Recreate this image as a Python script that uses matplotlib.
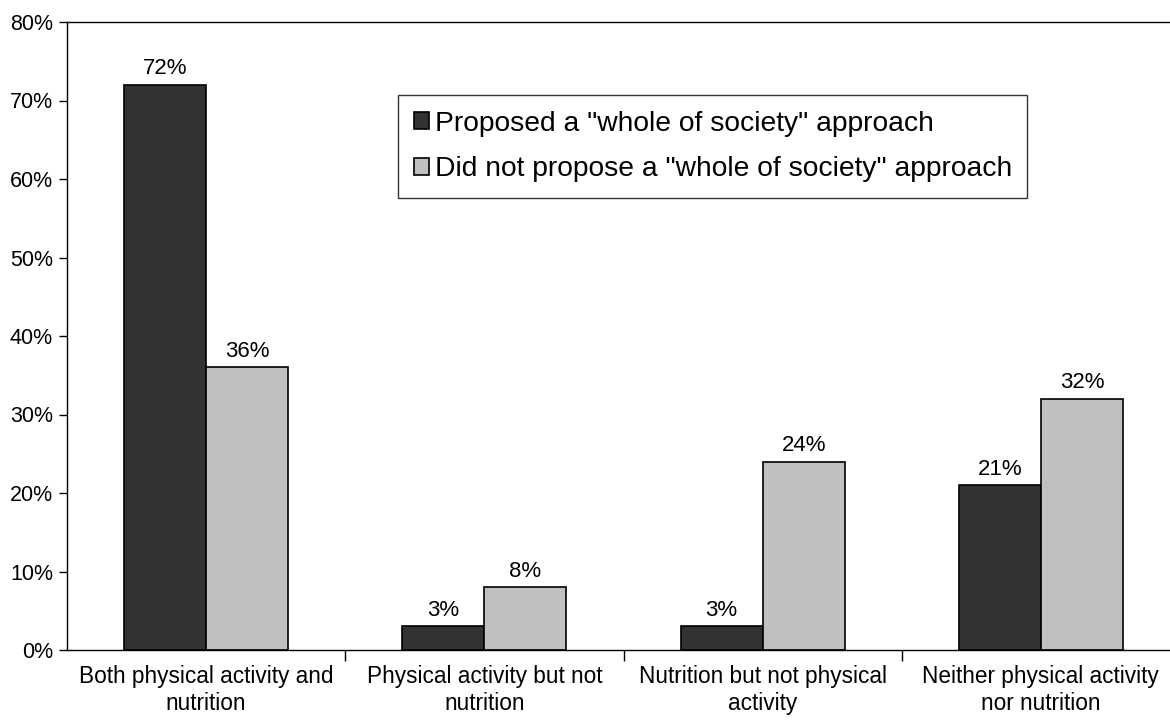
import matplotlib
matplotlib.use("Agg")
import matplotlib.pyplot as plt
import numpy as np
from matplotlib.ticker import FixedLocator, PercentFormatter

plt.rcParams['font.family'] = ['Liberation Sans', 'DejaVu Sans']

categories = ["Both physical activity and\nnutrition",
              "Physical activity but not\nnutrition",
              "Nutrition but not physical\nactivity",
              "Neither physical activity\nnor nutrition"]
series_names = ['Proposed a "whole of society" approach',
                'Did not propose a "whole of society" approach']
proposed = [72, 3, 3, 21]
not_proposed = [36, 8, 24, 32]
yticks = [0, 10, 20, 30, 40, 50, 60, 70, 80]

fig = plt.figure(figsize=(11.7, 7.23), dpi=100)
ax = fig.add_axes([67/1170, 73/723, (1180-67)/1170, (650-22)/723])

x = np.arange(len(categories))
w = 0.295
b1 = ax.bar(x - w/2, proposed, w, color="#333333", edgecolor="black", linewidth=1.2,
            label=series_names[0])
b2 = ax.bar(x + w/2, not_proposed, w, color="#c0c0c0", edgecolor="black", linewidth=1.2,
            label=series_names[1])
for bars, vals in ((b1, proposed), (b2, not_proposed)):
    for r, v in zip(bars, vals):
        ax.annotate(f"{v}%", (r.get_x() + r.get_width()/2, v), xytext=(0, 4),
                    textcoords="offset points", ha="center", va="bottom", fontsize=16)

ax.set_xlim(-0.5, len(categories) - 0.5)
ax.set_ylim(0, 80)
ax.yaxis.set_major_locator(FixedLocator(yticks))
ax.yaxis.set_major_formatter(PercentFormatter(decimals=0))
ax.set_xticks(x)
ax.set_xticklabels(categories, fontsize=16.3, linespacing=1.2)
ax.xaxis.set_minor_locator(FixedLocator(np.arange(0.5, len(categories) - 0.5, 1)))
ax.tick_params(axis='x', which='major', length=0, pad=11)
ax.tick_params(axis='x', which='minor', length=8, width=1, color="black", direction='out')
ax.tick_params(axis='y', labelsize=15.5, length=6, width=1, direction='out', pad=4)
for s in ("left", "bottom", "top"):
    ax.spines[s].set_linewidth(1)
    ax.spines[s].set_color("black")
ax.spines["right"].set_visible(False)

leg = ax.legend(loc="upper left", bbox_to_anchor=((398-67)/(1180-67), (650-95)/(650-22)),
                fontsize=20.3, frameon=True, fancybox=False, edgecolor="black",
                handlelength=0.55, handleheight=0.55, handletextpad=0.2,
                borderpad=0.55, labelspacing=0.7, borderaxespad=0)
leg.get_frame().set_linewidth(1)

fig.savefig("out.png", dpi=100)
